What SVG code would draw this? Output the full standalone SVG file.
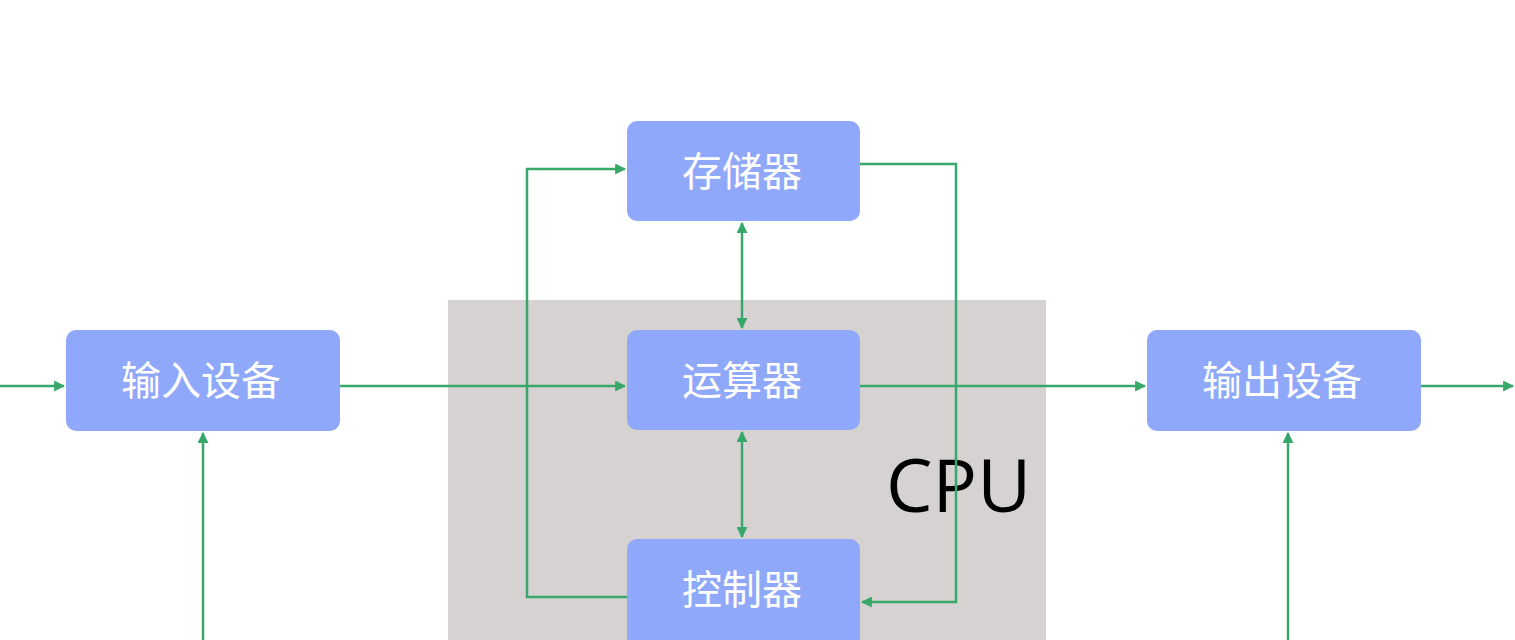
<svg xmlns="http://www.w3.org/2000/svg" width="1515" height="640" viewBox="0 0 1515 640">
<style>
.node{fill:#8fa8fa}
.lbl{font-family:"Noto Sans CJK SC","Noto Sans",sans-serif;font-size:40px;fill:#ffffff;text-anchor:middle}
.ln{fill:none;stroke:#38a86a;stroke-width:2.5}
</style>
<defs>
<marker id="ah" viewBox="0 0 10 10" refX="9" refY="5" markerWidth="4.4" markerHeight="4.4" orient="auto-start-reverse" markerUnits="strokeWidth">
<path d="M0,0 L10,5 L0,10 Z" fill="#38a86a"/>
</marker>
</defs>
<rect width="1515" height="640" fill="#ffffff"/>
<g id="cpu">
<rect x="448" y="300" width="598" height="345" fill="#d6d2d2"/>
<text x="886" y="512" font-family="Open Sans, sans-serif" font-size="74" fill="#000000">CPU</text>
</g>
<g id="connectors">
<line class="ln" x1="0" y1="386" x2="64" y2="386" marker-end="url(#ah)"/>
<line class="ln" x1="340" y1="386" x2="625" y2="386" marker-end="url(#ah)"/>
<line class="ln" x1="860" y1="386" x2="1145" y2="386" marker-end="url(#ah)"/>
<line class="ln" x1="1421" y1="386" x2="1513" y2="386" marker-end="url(#ah)"/>
<polyline class="ln" points="627,597 527,597 527,169 625,169" marker-end="url(#ah)"/>
<polyline class="ln" points="860,164 956,164 956,602 862,602" marker-end="url(#ah)"/>
<line class="ln" x1="742" y1="223" x2="742" y2="328" marker-start="url(#ah)" marker-end="url(#ah)"/>
<line class="ln" x1="742" y1="432" x2="742" y2="537" marker-start="url(#ah)" marker-end="url(#ah)"/>
<line class="ln" x1="203" y1="640" x2="203" y2="433" marker-end="url(#ah)"/>
<line class="ln" x1="1288" y1="640" x2="1288" y2="433" marker-end="url(#ah)"/>
</g>
<g id="storage">
<rect class="node" x="627" y="121" width="233" height="100" rx="10"/>
<text class="lbl" x="742" y="186">存储器</text>
</g>
<g id="alu">
<rect class="node" x="627" y="330" width="233" height="100" rx="10"/>
<text class="lbl" x="742" y="395">运算器</text>
</g>
<g id="control">
<rect class="node" x="627" y="539" width="233" height="110" rx="10"/>
<text class="lbl" x="742" y="604">控制器</text>
</g>
<g id="input">
<rect class="node" x="66" y="330" width="274" height="101" rx="10"/>
<text class="lbl" x="201" y="395">输入设备</text>
</g>
<g id="output">
<rect class="node" x="1147" y="330" width="274" height="101" rx="10"/>
<text class="lbl" x="1282" y="395">输出设备</text>
</g>
</svg>
